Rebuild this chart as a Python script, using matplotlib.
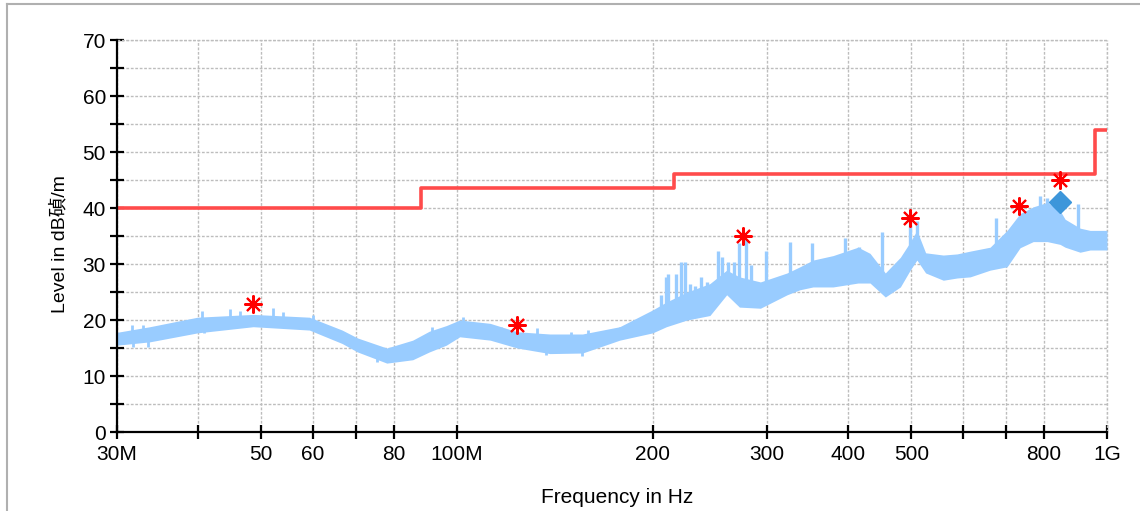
import numpy as np
import matplotlib
matplotlib.use('Agg')
import matplotlib.pyplot as plt
from matplotlib.ticker import FixedLocator, FixedFormatter, NullLocator
from matplotlib.lines import Line2D

# measured trace envelope (MHz, dB lower edge, dB upper edge)
trace_f = [30, 33.7, 39.9, 48.6, 59.3, 66.6, 70.3, 78, 85.5, 90.7, 96.3, 101,
           112.5, 123.8, 139, 156, 178, 200, 210, 226, 245, 260, 272, 293,
           322, 337, 353, 379, 414, 432, 456, 481, 498, 510, 526, 560, 588,
           616, 661, 702, 735, 770, 809, 847, 862, 909, 942, 1000]
trace_lo = [15.5, 16.1, 17.7, 18.8, 18.2, 15.8, 14.3, 12.3, 12.9, 14.3, 15.5, 17.0,
            16.4, 15.0, 14.0, 14.1, 16.4, 17.7, 18.8, 20.0, 20.8, 24.5, 22.3, 22.1,
            24.5, 25.4, 25.9, 25.9, 26.6, 26.6, 24.1, 25.9, 28.9, 30.7, 28.4, 27.1, 27.5,
            27.7, 28.9, 29.5, 32.9, 34.0, 34.0, 33.5, 33.0, 32.1, 32.5, 32.5]
trace_hi = [17.8, 18.8, 20.5, 21.0, 20.5, 18.2, 16.8, 15.0, 16.4, 18.0, 19.0, 20.0,
            19.4, 17.9, 17.5, 17.5, 18.8, 21.8, 23.2, 25.0, 26.5, 28.9, 27.7, 26.8,
            28.4, 29.5, 30.7, 31.5, 33.0, 31.9, 28.4, 31.2, 33.9, 36.0, 32.0, 31.6, 31.8,
            32.3, 33.0, 36.0, 39.0, 40.2, 41.0, 39.5, 38.0, 36.4, 36.0, 36.0]

# narrowband spikes on the trace
spike_f = [206, 210, 211.5, 217.5, 221, 224, 228, 232.5, 237, 242.5, 252, 256,
           261.5, 266.5, 272, 278, 283.5, 298.6, 325.6, 352, 395, 416, 450.5,
           498, 510, 675, 789, 808, 903]
spike_base = [20, 20, 20.5, 21, 21, 21.5, 21.5, 22, 22, 22.5, 24, 24.5,
              25, 25, 25, 24, 24, 24, 26, 27, 28, 28, 26,
              30, 31, 30, 36, 36, 33]
spike_top = [24.5, 27.7, 28.3, 28.3, 30.4, 30.4, 26.4, 26.1, 27.6, 26.8, 32.3, 31.2,
             30.4, 30.4, 33.8, 34.5, 29.9, 32.3, 34.0, 33.8, 34.6, 33.1, 35.8,
             38.2, 37.7, 38.2, 42.1, 41.7, 40.8]

# small noise ticks above / below the band
noise_f = [31.6, 32.9, 34.0, 40.6, 44.7, 46.4, 52.1, 54.0, 60.0,
           91.5, 102, 117, 133, 150, 159, 178,
           31.8, 33.5, 40.8, 75.4, 137, 156]
noise_lo = [16.5, 17.0, 17.0, 19.0, 19.5, 19.5, 19.5, 19.5, 19.0,
            16.0, 18.0, 17.0, 16.0, 15.5, 15.5, 17.0,
            15.2, 15.2, 17.7, 12.5, 13.8, 13.6]
noise_hi = [19.1, 19.1, 18.8, 21.6, 22.0, 21.6, 22.1, 21.4, 20.9,
            18.8, 20.6, 18.8, 18.6, 17.9, 18.2, 18.8,
            17.0, 17.0, 19.5, 14.5, 16.0, 16.0]

# limit line
limit_f = [30, 88, 216, 960, 1000]
limit_db = [40, 43.5, 46, 54, 54]

# peaks
peak_f = [48.6, 123.8, 275.8, 498, 732.6, 847]
peak_db = [22.8, 19.1, 35.0, 38.2, 40.4, 45.0]
final_f = [847]
final_db = [41.1]

xtick_vals = [30, 40, 50, 60, 70, 80, 100, 200, 300, 400, 500, 600, 700, 800, 1000]
xtick_labels = ['30M', '', '50', '60', '', '80', '100M', '200', '300', '400', '500',
                '', '', '800', '1G']
ytick_vals = list(range(0, 75, 5))
ytick_labels = [str(v) if v % 10 == 0 else '' for v in ytick_vals]

tick_font = ['Liberation Sans', 'DejaVu Sans']
label_font = ['Liberation Sans', 'Noto Sans CJK SC', 'DejaVu Sans']

fig = plt.figure(figsize=(11.4, 5.11), dpi=100)
fig.patch.set_facecolor('white')
ax = fig.add_axes([117/1140, 1-432/511, 990/1140, 392/511])

ax.set_xscale('log')
ax.set_xlim(30, 1000)
ax.set_ylim(0, 70)

trace_col = '#99CCFF'
ax.fill_between(trace_f, trace_lo, trace_hi, color=trace_col, lw=0, zorder=3)
ax.vlines(spike_f, spike_base, spike_top, color=trace_col, lw=2.4, zorder=3)
ax.vlines(noise_f, noise_lo, noise_hi, color=trace_col, lw=2.0, zorder=3)
ax.plot(limit_f, limit_db, drawstyle='steps-post', color='#FF4B4B', lw=2.6, zorder=4)
ax.plot(peak_f, peak_db, ls='none', marker=(8, 2, 0), ms=13, mew=1.5,
        color='#FF0000', zorder=5)
ax.plot(final_f, final_db, ls='none', marker='D', ms=11, color='#3D96DA',
        mec='#3D96DA', zorder=6)

ax.xaxis.set_major_locator(FixedLocator(xtick_vals))
ax.xaxis.set_major_formatter(FixedFormatter(xtick_labels))
ax.xaxis.set_minor_locator(NullLocator())
ax.yaxis.set_major_locator(FixedLocator(ytick_vals))
ax.yaxis.set_major_formatter(FixedFormatter(ytick_labels))

ax.grid(True, color='#BDBDBD', ls=(0, (2, 1.2)), lw=1.0, zorder=1)
ax.set_axisbelow(True)
# dashed closing lines at 70 dB and 1 GHz
ax.axhline(70, color='#BDBDBD', ls=(0, (2, 1.2)), lw=1.0, zorder=1, clip_on=False)
ax.axvline(1000, color='#BDBDBD', ls=(0, (2, 1.2)), lw=1.0, zorder=1, clip_on=False)

for s in ['top', 'right']:
    ax.spines[s].set_visible(False)
for s in ['left', 'bottom']:
    ax.spines[s].set_linewidth(1.6)
    ax.spines[s].set_color('black')
    ax.spines[s].set_zorder(7)

ax.tick_params(axis='both', direction='inout', length=10, width=1.6, color='black')
ax.tick_params(axis='x', pad=4)
ax.tick_params(axis='y', pad=3)
for lbl in ax.get_xticklabels() + ax.get_yticklabels():
    lbl.set_family(tick_font)
    lbl.set_fontsize(15)

fig.text(60/1140, 1-244/511, 'Level in dB碵/m', rotation=90, ha='center', va='center',
         fontsize=14, family=label_font)
fig.text(617/1140, 1-497/511, 'Frequency in Hz', ha='center', va='center',
         fontsize=15, family=label_font)

# outer frame of the report window
fig.add_artist(Line2D([7/1140, 7/1140], [0, 1-4/511], transform=fig.transFigure,
                      color='#B0B0B0', lw=1.5))
fig.add_artist(Line2D([7/1140, 1], [1-4/511, 1-4/511], transform=fig.transFigure,
                      color='#B0B0B0', lw=1.5))

fig.savefig('out.png', dpi=100, facecolor='white')
